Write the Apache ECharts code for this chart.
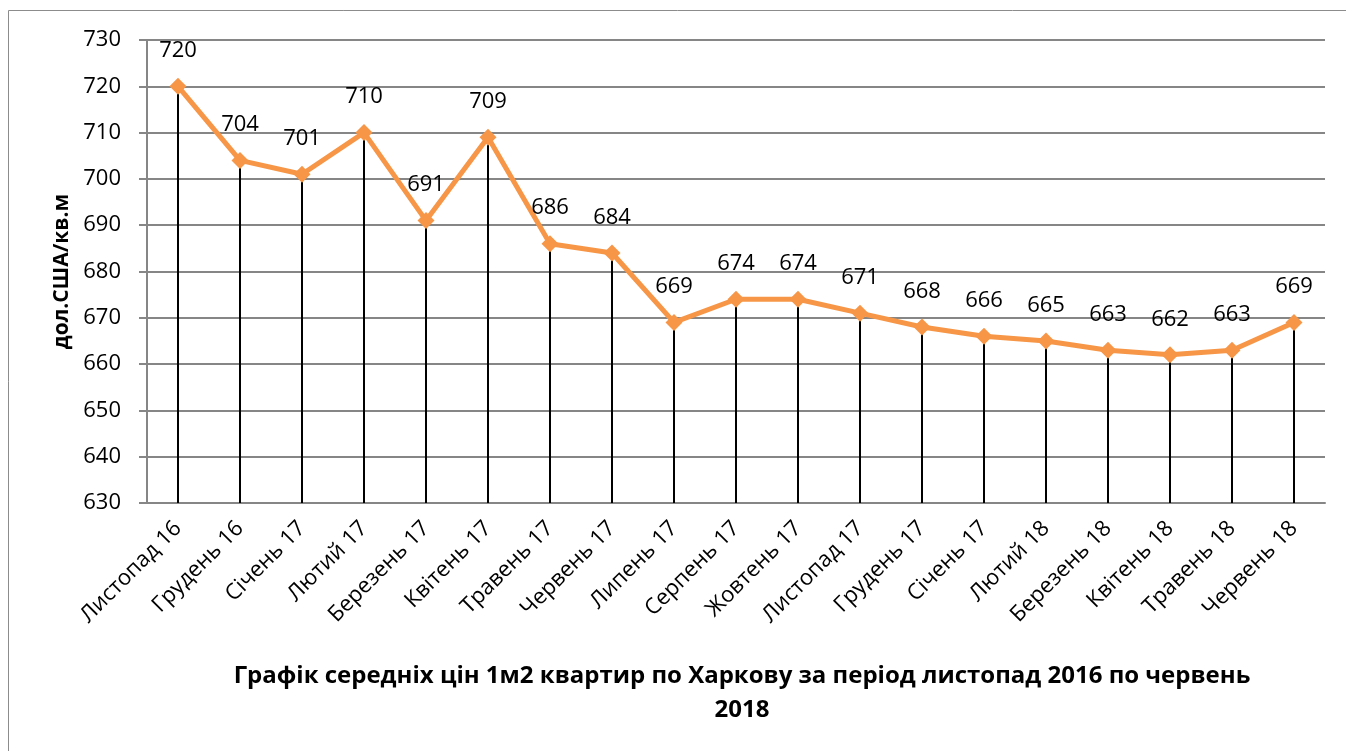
<!DOCTYPE html>
<html>
<head>
<meta charset="utf-8">
<script src="https://cdn.jsdelivr.net/npm/echarts@6/dist/echarts.min.js"></script>
<style>
  html, body { margin: 0; padding: 0; background: #fff; }
  #chart { width: 1346px; height: 751px; }
</style>
</head>
<body>
<div id="chart"></div>
<script>
const months = ['Листопад 16', 'Грудень 16', 'Січень 17', 'Лютий 17', 'Березень 17', 'Квітень 17',
  'Травень 17', 'Червень 17', 'Липень 17', 'Серпень 17', 'Жовтень 17', 'Листопад 17',
  'Грудень 17', 'Січень 17', 'Лютий 18', 'Березень 18', 'Квітень 18', 'Травень 18', 'Червень 18']
const prices = [720, 704, 701, 710, 691, 709, 686, 684, 669, 674, 674, 671, 668, 666, 665, 663, 662, 663, 669]
const yMin = 630
const yMax = 730
const yStep = 10

const font = '"Open Sans", "Liberation Sans", sans-serif'
const chart = echarts.init(document.getElementById('chart'))

chart.setOption({
  animation: false,
  textStyle: { fontFamily: font },
  graphic: [{
    type: 'rect',
    shape: { x: 8.5, y: 10.5, width: 1340, height: 760 },
    style: { fill: 'none', stroke: '#8c8c8c', lineWidth: 1 },
    silent: true
  }],
  title: {
    text: 'Графік середніх цін 1м2 квартир по Харкову за період листопад 2016 по червень\n2018',
    left: 737,
    textAlign: 'center',
    top: 654,
    textStyle: {
      fontFamily: font,
      fontSize: 24,
      fontWeight: 'bold',
      color: '#000',
      lineHeight: 34,
      align: 'center'
    }
  },
  grid: {
    left: 147,
    right: 21,
    top: 40,
    bottom: 248
  },
  xAxis: {
    type: 'category',
    data: months,
    boundaryGap: true,
    axisLine: { show: true, lineStyle: { color: '#868686', width: 2 } },
    axisTick: { show: false },
    axisLabel: {
      rotate: 45,
      interval: 0,
      color: '#000',
      fontSize: 22,
      fontFamily: font,
      margin: 22
    }
  },
  yAxis: {
    type: 'value',
    min: yMin,
    max: yMax,
    interval: yStep,
    name: 'дол.США/кв.м',
    nameLocation: 'middle',
    nameGap: 74,
    nameRotate: 90,
    nameTextStyle: {
      fontFamily: font,
      fontSize: 21,
      fontWeight: 'bold',
      color: '#000'
    },
    axisLine: { show: true, lineStyle: { color: '#868686', width: 2 } },
    axisTick: { show: true, length: 8, lineStyle: { color: '#868686', width: 2 } },
    axisLabel: { color: '#000', fontSize: 22, fontFamily: font, margin: 26 },
    splitLine: { lineStyle: { color: '#868686', width: 2 } }
  },
  series: [
    {
      name: 'drop',
      type: 'bar',
      data: prices,
      barWidth: 2,
      itemStyle: { color: '#000' },
      silent: true,
      z: 2
    },
    {
      name: 'price',
      type: 'line',
      data: prices,
      symbol: 'diamond',
      symbolSize: 17,
      lineStyle: { color: '#F79646', width: 5 },
      itemStyle: { color: '#F79646' },
      label: {
        show: true,
        position: 'top',
        distance: 16,
        color: '#000',
        fontSize: 22,
        fontFamily: font
      },
      z: 3
    }
  ]
})
</script>
</body>
</html>
